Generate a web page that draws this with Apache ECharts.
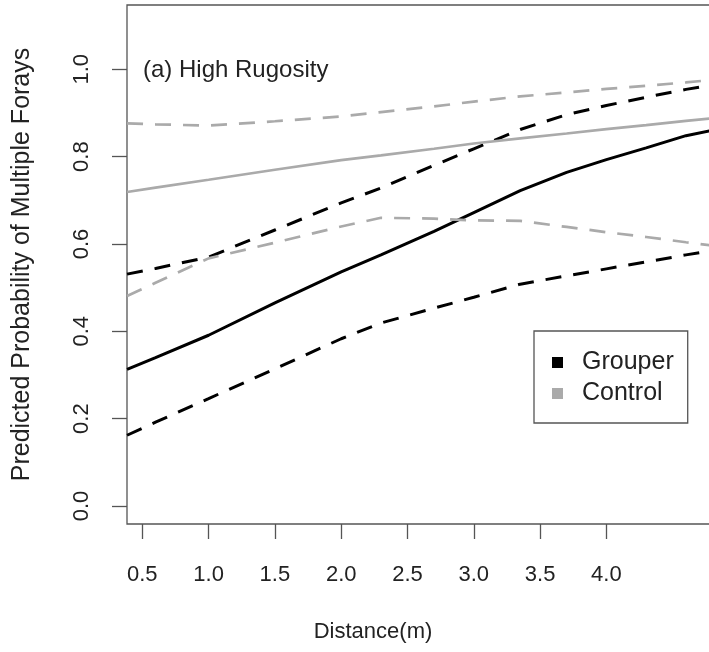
<!DOCTYPE html>
<html>
<head>
<meta charset="utf-8">
<script src="https://cdn.jsdelivr.net/npm/echarts@6/dist/echarts.min.js"></script>
<style>
  html, body { margin: 0; padding: 0; background: #fff; }
  #chart { width: 709px; height: 652px; }
</style>
</head>
<body>
<div id="chart"></div>
<script>
// Distances (m) at which the fitted curves are evaluated
const distance = [0.385, 0.6, 1.0, 1.5, 2.0, 2.3, 2.7, 3.0, 3.35, 3.7, 4.0, 4.3, 4.6, 4.78];

// Predicted probability of multiple forays, with 95% confidence bounds
const grouperMean  = [0.313, 0.340, 0.391, 0.465, 0.536, 0.575, 0.629, 0.672, 0.722, 0.764, 0.793, 0.820, 0.848, 0.859];
const grouperUpper = [0.531, 0.544, 0.570, 0.632, 0.694, 0.728, 0.780, 0.818, 0.862, 0.896, 0.917, 0.936, 0.954, 0.963];
const grouperLower = [0.162, 0.192, 0.246, 0.314, 0.383, 0.419, 0.453, 0.478, 0.508, 0.527, 0.543, 0.559, 0.575, 0.584];
const controlMean  = [0.719, 0.729, 0.747, 0.770, 0.792, 0.803, 0.818, 0.830, 0.842, 0.853, 0.863, 0.872, 0.882, 0.887];
const controlUpper = [0.876, 0.874, 0.871, 0.881, 0.892, 0.902, 0.915, 0.926, 0.938, 0.947, 0.955, 0.962, 0.970, 0.975];
const controlLower = [0.481, 0.511, 0.567, 0.603, 0.640, 0.660, 0.658, 0.654, 0.653, 0.639, 0.627, 0.616, 0.604, 0.597];

// Axis ticks
const xTicks = [0.5, 1.0, 1.5, 2.0, 2.5, 3.0, 3.5, 4.0];
const yTicks = [0.0, 0.2, 0.4, 0.6, 0.8, 1.0];

const FONT = "'Liberation Sans', Arial, Helvetica, sans-serif";
const BLACK = '#000000';
const GREY = '#aaaaaa';
const AXIS = '#555555';

const pairs = ys => distance.map((d, i) => [d, ys[i]]);

function curve(name, ys, color, dashed, width) {
  return {
    name: name,
    type: 'line',
    data: pairs(ys),
    showSymbol: false,
    symbol: 'none',
    smooth: false,
    silent: true,
    itemStyle: { color: color },
    lineStyle: { color: color, width: width, type: dashed ? [16, 12] : 'solid', cap: 'butt' },
    z: 3
  };
}

const chart = echarts.init(document.getElementById('chart'), null, { renderer: 'canvas' });

chart.setOption({
  animation: false,
  backgroundColor: '#ffffff',
  textStyle: { fontFamily: FONT },
  // the panel runs on past the right edge of the page, so its right side is not drawn
  grid: {
    left: 127, top: 5, height: 519, width: 612,
    outerBoundsMode: 'none',
    containLabel: false,
    show: true, borderColor: AXIS, borderWidth: 1.3, backgroundColor: 'transparent'
  },
  xAxis: {
    type: 'value',
    min: 0.3846, max: 5.0,
    axisLine: { show: false, onZero: false },
    splitLine: { show: false },
    axisTick: { show: true, inside: false, length: 15, customValues: xTicks, lineStyle: { color: AXIS, width: 1.3 } },
    axisLabel: {
      customValues: xTicks, margin: 40,
      fontSize: 22, color: '#222', fontFamily: FONT,
      formatter: v => v.toFixed(1)
    }
  },
  yAxis: {
    type: 'value',
    min: -0.0412, max: 1.1472,
    name: 'Predicted Probability of Multiple Forays',
    nameLocation: 'middle', nameRotate: 90, nameGap: 92,
    nameTextStyle: { fontSize: 25, color: '#222', fontFamily: FONT },
    axisLine: { show: false, onZero: false },
    splitLine: { show: false },
    axisTick: { show: true, inside: false, length: 15, customValues: yTicks, lineStyle: { color: AXIS, width: 1.3 } },
    axisLabel: {
      customValues: yTicks, margin: 34, rotate: 90,
      fontSize: 22, color: '#222', fontFamily: FONT,
      formatter: v => v.toFixed(1)
    }
  },
  legend: {
    data: ['Grouper', 'Control'],
    orient: 'vertical',
    left: 534, top: 331,
    width: 153,
    padding: [19, 14, 17, 18],
    itemGap: 6,
    itemWidth: 25, itemHeight: 11,
    icon: 'path://M0,0H11V11H0ZM25,11Z',
    itemStyle: { borderWidth: 0 },
    borderColor: AXIS, borderWidth: 1.3,
    backgroundColor: '#ffffff',
    selectedMode: false,
    textStyle: { fontSize: 25, lineHeight: 25, color: '#222', fontFamily: FONT }
  },
  graphic: [
    {
      type: 'text', x: 143, y: 70,
      style: { text: '(a) High Rugosity', fontSize: 24, fontFamily: FONT, fill: '#222', verticalAlign: 'middle' }
    },
    {
      type: 'text', x: 373, y: 632,
      style: { text: 'Distance(m)', fontSize: 22, fontFamily: FONT, fill: '#222', align: 'center', verticalAlign: 'middle' }
    }
  ],
  series: [
    curve('Grouper', grouperMean, BLACK, false, 3),
    curve('Grouper upper', grouperUpper, BLACK, true, 3),
    curve('Grouper lower', grouperLower, BLACK, true, 3),
    curve('Control', controlMean, GREY, false, 2.7),
    curve('Control upper', controlUpper, GREY, true, 2.7),
    curve('Control lower', controlLower, GREY, true, 2.7)
  ]
});
</script>
</body>
</html>
